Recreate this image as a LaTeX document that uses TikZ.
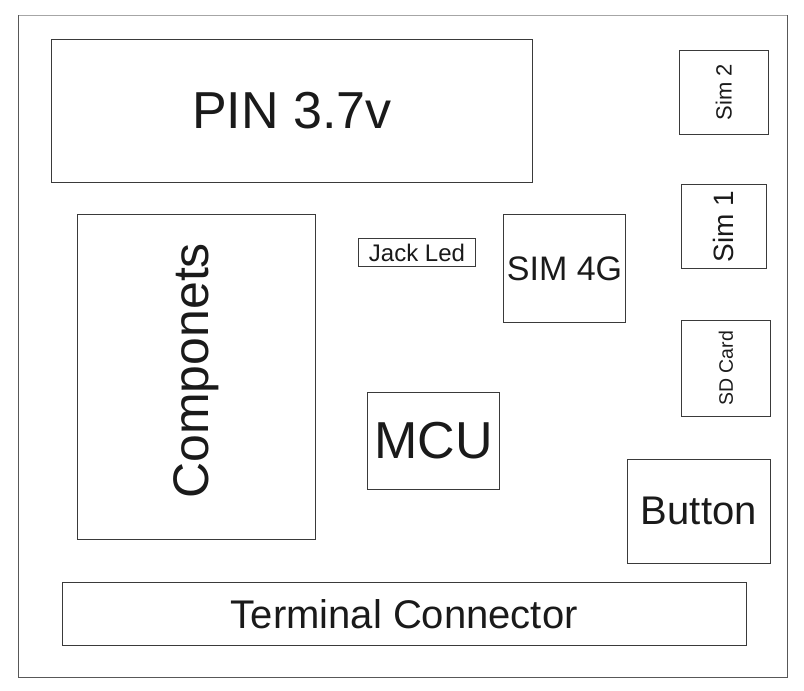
\documentclass[tikz,border=0pt]{standalone}
\usepackage{fontspec}
\setmainfont{Liberation Sans}
\definecolor{boxline}{HTML}{3A3A3A}
\definecolor{txt}{HTML}{1A1A1A}
\begin{document}
\begin{tikzpicture}[x=1pt,y=-1pt,
  box/.style={draw=boxline, line width=0.9pt, inner sep=0pt, outer sep=0pt, text=txt, anchor=center, align=center},
  fsz/.style={font=\fontsize{#1}{#1}\selectfont}]
\useasboundingbox (0,0) rectangle (804,691);
% outer board
\coordinate (ob1) at (18.5,15);
\coordinate (ob2) at (787,677);
\draw[draw=gray!70, line width=0.9pt] (ob1) -- (ob2 |- ob1);
\draw[draw=boxline!85, line width=0.9pt] (ob2 |- ob1) -- (ob2) -- (ob1 |- ob2) -- (ob1);
% boxes: center (x,y), width, height
\node[box, fsz=52, minimum width=481, minimum height=143] (pin) at (292,110.5) {PIN 3.7v};
\node[box, fsz=50, minimum width=324.5, minimum height=238, rotate=90] (comp) at (196.5,376.8) {\hspace*{12pt}Componets};
\node[box, fsz=24, minimum width=117.4, minimum height=28.4] (jack) at (417,252.5) {Jack Led};
\node[box, fsz=34, minimum width=121.6, minimum height=108.4] (sim4g) at (564.5,268.5) {SIM 4G};
\node[box, fsz=52, minimum width=132.4, minimum height=97] (mcu) at (433.5,440.8) {MCU};
\node[box, fsz=22, minimum width=84.3, minimum height=89, rotate=90] (sim2) at (723.8,92.2) {Sim 2};
\node[box, fsz=28, minimum width=84, minimum height=84.3, rotate=90] (sim1) at (723.9,226.3) {Sim 1};
\node[box, fsz=19.5, minimum width=95.3, minimum height=89, rotate=90] (sd) at (725.8,368.3) {SD Card};
\node[box, fsz=40, minimum width=143, minimum height=104] (btn) at (698.8,511.3) {Button};
\node[box, fsz=40, minimum width=684, minimum height=63] (term) at (404.3,613.7) {Terminal Connector};
\end{tikzpicture}
\end{document}
